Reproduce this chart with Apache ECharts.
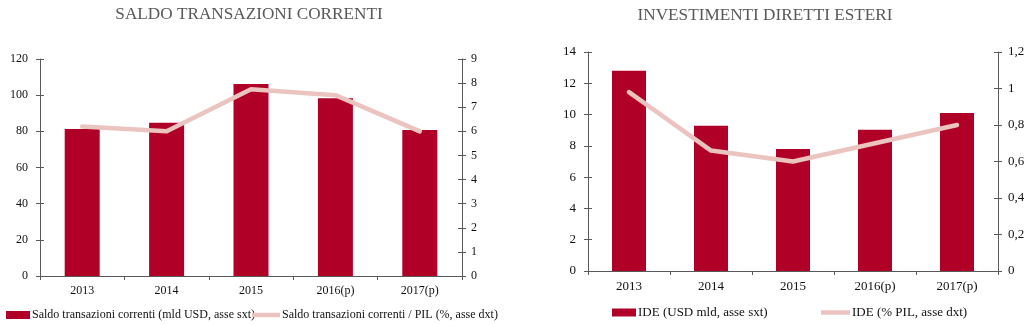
<!DOCTYPE html>
<html>
<head>
<meta charset="utf-8">
<script src="https://cdn.jsdelivr.net/npm/echarts@6/dist/echarts.min.js"></script>
<style>
  html, body { margin: 0; padding: 0; background: #ffffff; }
  #chart { width: 1033px; height: 325px; }
</style>
</head>
<body>
<div id="chart"></div>
<script>
// Categories
const years = ['2013', '2014', '2015', '2016(p)', '2017(p)'];

// Saldo transazioni correnti
const saldoUsd = [81.3, 84.8, 106.2, 98.3, 80.7];      // mld USD, left axis
const saldoPil = [6.2, 6.0, 7.75, 7.5, 6.0];           // % PIL, right axis

// Investimenti diretti esteri
const ideUsd = [12.8, 9.28, 7.8, 9.03, 10.1];          // USD mld, left axis
const idePil = [0.98, 0.66, 0.60, 0.70, 0.80];         // % PIL, right axis

// Axis ranges
const saldoUsdAxis = { min: 0, max: 120, interval: 20 };
const saldoPilAxis = { min: 0, max: 9, interval: 1 };
const ideUsdAxis = { min: 0, max: 14, interval: 2 };
const idePilAxis = { min: 0, max: 1.2, interval: 0.2 };

// Titles and legend names
const titles = ['SALDO TRANSAZIONI CORRENTI', 'INVESTIMENTI DIRETTI ESTERI'];
const names = {
  saldoUsd: 'Saldo transazioni correnti (mld USD, asse sxt)',
  saldoPil: 'Saldo transazioni correnti / PIL (%, asse dxt)',
  ideUsd: 'IDE (USD mld, asse sxt)',
  idePil: 'IDE (% PIL, asse dxt)'
};

const BAR = '#b10028';
const LINE = '#ebc4c0';
const AXIS = '#595959';
const TEXT = '#111111';
const FONT = '"Liberation Serif", "Times New Roman", serif';

const chart = echarts.init(document.getElementById('chart'), null, { renderer: 'canvas' });

function valueAxis(grid, pos, range, margin, size, fmt) {
  return {
    type: 'value', gridIndex: grid, position: pos,
    min: range.min, max: range.max, interval: range.interval,
    axisLine: { show: true, lineStyle: { color: AXIS, width: 1 } },
    axisTick: { show: true, inside: false, length: 4, lineStyle: { color: AXIS } },
    splitLine: { show: false },
    axisLabel: {
      margin: margin, color: TEXT, fontFamily: FONT, fontSize: size,
      formatter: fmt || (v => String(v))
    }
  };
}
// Inner half of the crossing tick marks
function tickAxis(grid, pos, range) {
  return {
    type: 'value', gridIndex: grid, position: pos,
    min: range.min, max: range.max, interval: range.interval,
    axisLine: { show: false },
    axisTick: { show: true, inside: true, length: 4, lineStyle: { color: AXIS } },
    splitLine: { show: false },
    axisLabel: { show: false }
  };
}
function catAxis(grid, size) {
  return {
    type: 'category', gridIndex: grid, data: years,
    axisLine: { show: true, lineStyle: { color: AXIS, width: 1 } },
    axisTick: { show: true, inside: false, length: 4, alignWithLabel: false, lineStyle: { color: AXIS } },
    axisLabel: { margin: 9, color: TEXT, fontFamily: FONT, fontSize: size }
  };
}
const comma = v => String(Math.round(v * 10) / 10).replace('.', ',');

function legend(left, top, name, h, w, size) {
  return {
    left: left, top: top, orient: 'horizontal', padding: 0,
    data: [{ name: name, icon: 'rect' }],
    itemWidth: w, itemHeight: h, itemGap: 0,
    selectedMode: false,
    textStyle: { color: TEXT, fontFamily: FONT, fontSize: size, padding: [0, 0, 0, -3] }
  };
}

chart.setOption({
  animation: false,
  backgroundColor: '#ffffff',
  graphic: [
    { type: 'text', x: 249, y: 14, style: { text: titles[0], fill: AXIS, font: '17.2px ' + FONT, textAlign: 'center', textVerticalAlign: 'middle' } },
    { type: 'text', x: 765, y: 15, style: { text: titles[1], fill: AXIS, font: '17.2px ' + FONT, textAlign: 'center', textVerticalAlign: 'middle' } }
  ],
  legend: [
    legend(6, 309, names.saldoUsd, 8, 24, 12),
    legend(252, 309, names.saldoPil, 4.5, 28, 12),
    legend(612, 306, names.ideUsd, 8, 24, 13),
    legend(821, 306, names.idePil, 4.5, 29, 13)
  ],
  grid: [
    { left: 40, right: 571, top: 59, bottom: 49, containLabel: false },
    { left: 588, right: 35, top: 52, bottom: 54, containLabel: false }
  ],
  xAxis: [catAxis(0, 12), catAxis(1, 13)],
  yAxis: [
    valueAxis(0, 'left', saldoUsdAxis, 12, 12),
    valueAxis(0, 'right', saldoPilAxis, 9, 12),
    valueAxis(1, 'left', ideUsdAxis, 12, 13),
    valueAxis(1, 'right', idePilAxis, 10, 13, comma),
    tickAxis(0, 'left', saldoUsdAxis),
    tickAxis(0, 'right', saldoPilAxis),
    tickAxis(1, 'left', ideUsdAxis),
    tickAxis(1, 'right', idePilAxis)
  ],
  series: [
    {
      name: names.saldoUsd, type: 'bar', xAxisIndex: 0, yAxisIndex: 0,
      data: saldoUsd, barWidth: 35, itemStyle: { color: BAR }
    },
    {
      name: names.saldoPil, type: 'line', xAxisIndex: 0, yAxisIndex: 1,
      data: saldoPil, showSymbol: false, symbol: 'none',
      itemStyle: { color: LINE },
      lineStyle: { color: LINE, width: 4.5, cap: 'round', join: 'round' }
    },
    {
      name: names.ideUsd, type: 'bar', xAxisIndex: 1, yAxisIndex: 2,
      data: ideUsd, barWidth: 34, itemStyle: { color: BAR }
    },
    {
      name: names.idePil, type: 'line', xAxisIndex: 1, yAxisIndex: 3,
      data: idePil, showSymbol: false, symbol: 'none',
      itemStyle: { color: LINE },
      lineStyle: { color: LINE, width: 4.5, cap: 'round', join: 'round' }
    }
  ]
});
</script>
</body>
</html>
